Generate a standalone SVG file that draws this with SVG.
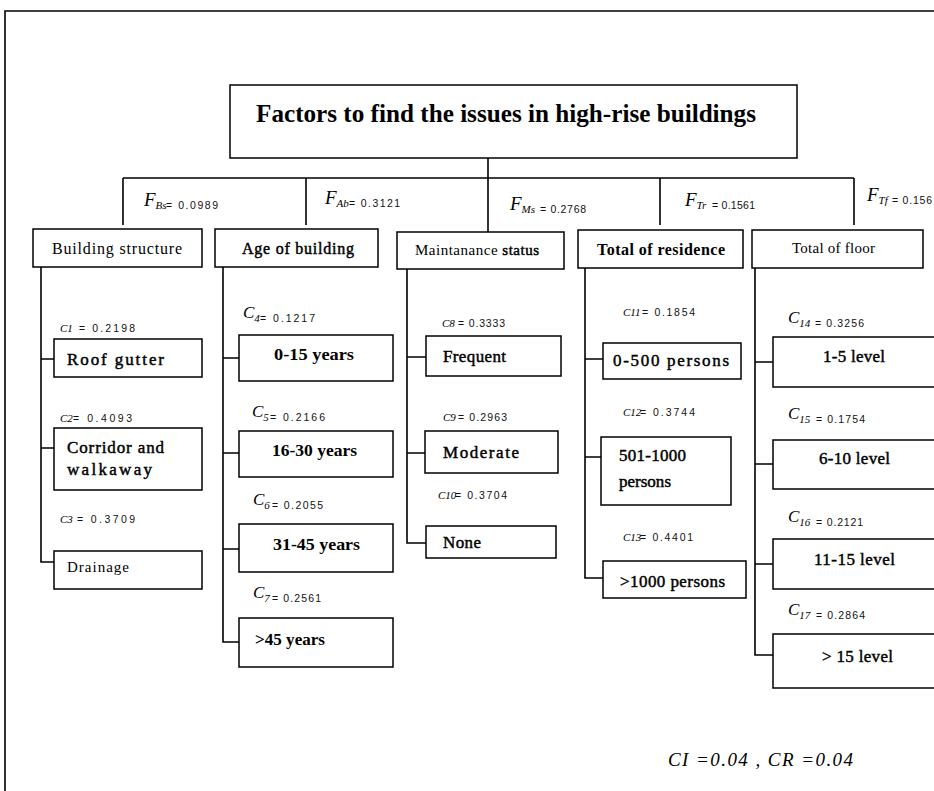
<svg xmlns="http://www.w3.org/2000/svg" width="934" height="791" viewBox="0 0 934 791">
<style>
.bx{fill:#fff;stroke:#000;stroke-width:1.5}
.ln{fill:none;stroke:#000;stroke-width:1.6}
.t{font-family:"Liberation Serif","Times New Roman",serif;fill:#000}
.b{font-weight:bold}
.m{stroke:#000;stroke-width:0.45}
.it{font-style:italic}
.v{font-family:"Liberation Sans",Arial,sans-serif;font-size:10.5px;fill:#111}
.s11{font-size:11px}
.s15{font-size:15px}
.s16{font-size:16px}
.s17{font-size:17px}
.s18{font-size:19px}
.sub{font-size:11px}
</style>
<rect width="934" height="791" fill="#fff"/>
<path class="ln" d="M5,791 V11 H934"/>

<g id="connectors">
<path class="ln" d="M488,158 V178 M123,178 H854 M123,178 V225 M306,178 V225 M488,178 V232 M660,178 V225 M854,178 V225"/>
<path class="ln" d="M41,267 V562 H54 M41,359 H54 M41,448 H54"/>
<path class="ln" d="M223,267 V642 H239 M223,358 H239 M223,453 H239 M223,549 H239"/>
<path class="ln" d="M407,269 V543 H426 M407,357 H426 M407,453 H425"/>
<path class="ln" d="M585,268 V578 H603 M585,359 H603 M585,457 H601"/>
<path class="ln" d="M755,268 V655 H773 M755,362 H773 M755,464 H773 M755,564 H773"/>
</g>

<g id="title">
<rect class="bx" x="230" y="85" width="567" height="73"/>
<text class="t b" x="256" y="122" font-size="25" textLength="500" lengthAdjust="spacingAndGlyphs">Factors to find the issues in high-rise buildings</text>
</g>

<g id="f-labels">
<text class="t it s18" x="144" y="206">F<tspan class="sub" dy="3">Bs</tspan></text><text class="v" x="166" y="209" textLength="52">= 0.0989</text>
<text class="t it s18" x="325" y="204">F<tspan class="sub" dy="3">Ab</tspan></text><text class="v" x="349" y="207" textLength="51">= 0.3121</text>
<text class="t it s18" x="510" y="210">F<tspan class="sub" dy="3">Ms</tspan></text><text class="v" x="540" y="213" textLength="46">= 0.2768</text>
<text class="t it s18" x="685" y="206">F<tspan class="sub" dy="3">Tr</tspan></text><text class="v" x="712" y="209" textLength="43">= 0.1561</text>
<text class="t it s18" x="867" y="201">F<tspan class="sub" dy="3">Tf</tspan></text><text class="v" x="892" y="204" textLength="40">= 0.156</text>
</g>

<g id="building-structure">
<rect class="bx" x="33" y="229" width="169" height="38"/>
<text class="t s16" x="52" y="254" textLength="130">Building structure</text>
</g>
<g id="age-of-building">
<rect class="bx" x="215" y="229" width="163" height="38"/>
<text class="t s16 m" x="242" y="254" textLength="112">Age of building</text>
</g>
<g id="maintanance-status">
<rect class="bx" x="397" y="232" width="167" height="37"/>
<text class="t s15" x="415" y="255" textLength="124">Maintanance <tspan class="m">status</tspan></text>
</g>
<g id="total-of-residence">
<rect class="bx" x="578" y="230" width="165" height="38"/>
<text class="t s16 b" x="597" y="255" textLength="128">Total of residence</text>
</g>
<g id="total-of-floor">
<rect class="bx" x="752" y="230" width="171" height="38"/>
<text class="t s15" x="792" y="253" textLength="83">Total of floor</text>
</g>

<g id="c-labels">
<text class="t it s11" x="60" y="332">C1</text><text class="v" x="79" y="332" textLength="56">= 0.2198</text>
<text class="t it s11" x="60" y="422">C2</text><text class="v" x="73" y="422" textLength="59">= 0.4093</text>
<text class="t it s11" x="60" y="523">C3</text><text class="v" x="77" y="523" textLength="58">= 0.3709</text>

<text class="t it s17" x="243" y="318" fill="#333">C<tspan class="sub" dy="4">4</tspan></text><text class="v" x="260" y="322" textLength="55">= 0.1217</text>
<text class="t it s17" x="252" y="417" fill="#333">C<tspan class="sub" dy="4">5</tspan></text><text class="v" x="270" y="421" textLength="55">= 0.2166</text>
<text class="t it s17" x="253" y="505" fill="#333">C<tspan class="sub" dy="4">6</tspan></text><text class="v" x="272" y="509" textLength="51">= 0.2055</text>
<text class="t it s17" x="253" y="598" fill="#333">C<tspan class="sub" dy="4">7</tspan></text><text class="v" x="272" y="602" textLength="49">= 0.2561</text>

<text class="t it s11" x="442" y="327">C8</text><text class="v" x="458" y="327" textLength="47">= 0.3333</text>
<text class="t it s11" x="443" y="421">C9</text><text class="v" x="458" y="421" textLength="49">= 0.2963</text>
<text class="t it s11" x="438" y="499">C10</text><text class="v" x="455" y="499" textLength="52">= 0.3704</text>

<text class="t it s11" x="623" y="316">C11</text><text class="v" x="642" y="316" textLength="53">= 0.1854</text>
<text class="t it s11" x="623" y="416">C12</text><text class="v" x="640" y="416" textLength="55">= 0.3744</text>
<text class="t it s11" x="623" y="541">C13</text><text class="v" x="640" y="541" textLength="53">= 0.4401</text>

<text class="t it s17" x="788" y="323" fill="#333">C<tspan class="sub" dy="4">14</tspan></text><text class="v" x="815" y="327" textLength="49">= 0.3256</text>
<text class="t it s17" x="788" y="419" fill="#333">C<tspan class="sub" dy="4">15</tspan></text><text class="v" x="816" y="423" textLength="49">= 0.1754</text>
<text class="t it s17" x="788" y="522" fill="#333">C<tspan class="sub" dy="4">16</tspan></text><text class="v" x="816" y="526" textLength="47">= 0.2121</text>
<text class="t it s17" x="788" y="615" fill="#333">C<tspan class="sub" dy="4">17</tspan></text><text class="v" x="816" y="619" textLength="49">= 0.2864</text>
</g>

<g id="roof-gutter"><rect class="bx" x="54" y="339" width="148" height="38"/><text class="t s17 m" x="67" y="365" textLength="97">Roof gutter</text></g>
<g id="corridor"><rect class="bx" x="54" y="428" width="148" height="62"/><text class="t s17 m" x="67" y="453" textLength="97">Corridor and</text><text class="t s17 m" x="67" y="475" textLength="85">walkaway</text></g>
<g id="drainage"><rect class="bx" x="54" y="551" width="148" height="38"/><text class="t s15" x="67" y="572" textLength="62">Drainage</text></g>

<g id="y0-15"><rect class="bx" x="239" y="335" width="154" height="46"/><text class="t s17 b" x="274" y="360" textLength="80" lengthAdjust="spacingAndGlyphs">0-15 years</text></g>
<g id="y16-30"><rect class="bx" x="239" y="431" width="154" height="46"/><text class="t s17 b" x="272" y="456" textLength="85" lengthAdjust="spacingAndGlyphs">16-30 years</text></g>
<g id="y31-45"><rect class="bx" x="239" y="524" width="154" height="48"/><text class="t s17 b" x="273" y="550" textLength="87" lengthAdjust="spacingAndGlyphs">31-45 years</text></g>
<g id="y45"><rect class="bx" x="239" y="618" width="154" height="49"/><text class="t s17 b" x="255" y="645" textLength="70" lengthAdjust="spacingAndGlyphs">&gt;45 years</text></g>

<g id="frequent"><rect class="bx" x="426" y="336" width="135" height="40"/><text class="t s17 m" x="443" y="362" textLength="63">Frequent</text></g>
<g id="moderate"><rect class="bx" x="425" y="431" width="133" height="42"/><text class="t s17 m" x="443" y="458" textLength="76">Moderate</text></g>
<g id="none"><rect class="bx" x="426" y="526" width="130" height="32"/><text class="t s17 m" x="443" y="548" textLength="38">None</text></g>

<g id="p0-500"><rect class="bx" x="603" y="343" width="138" height="36"/><text class="t s17 m" x="613" y="366" textLength="116">0-500 persons</text></g>
<g id="p501-1000"><rect class="bx" x="601" y="437" width="130" height="68"/><text class="t s17 m" x="619" y="461" textLength="67">501-1000</text><text class="t s17 m" x="619" y="487" textLength="52">persons</text></g>
<g id="p1000"><rect class="bx" x="603" y="561" width="143" height="37"/><text class="t s17 m" x="620" y="587" textLength="105">&gt;1000 persons</text></g>

<g id="l1-5"><rect class="bx" x="773" y="337" width="180" height="50"/><text class="t s17 m" x="823" y="362" textLength="62">1-5 level</text></g>
<g id="l6-10"><rect class="bx" x="773" y="440" width="180" height="49"/><text class="t s17 m" x="819" y="464" textLength="71">6-10 level</text></g>
<g id="l11-15"><rect class="bx" x="773" y="539" width="180" height="50"/><text class="t s17 m" x="814" y="565" textLength="81">11-15 level</text></g>
<g id="l15"><rect class="bx" x="773" y="634" width="180" height="54"/><text class="t s17 m" x="822" y="662" textLength="71">&gt; 15 level</text></g>

<text class="t it" font-size="19" x="668" y="766" textLength="185">CI =0.04 , CR =0.04</text>
</svg>
